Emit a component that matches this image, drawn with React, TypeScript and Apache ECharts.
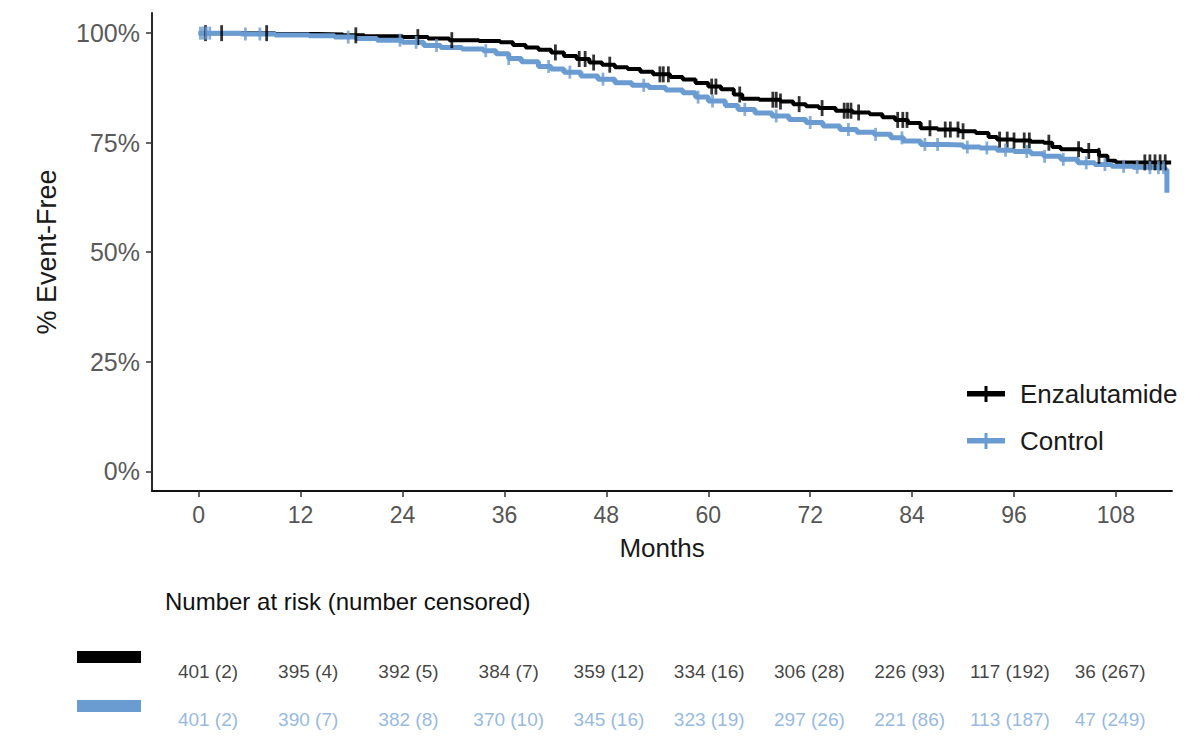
import React, { useEffect, useRef } from "react";
import * as echarts from "echarts";

// Kaplan-Meier curves: [month, % event-free]
const enzaCurve: number[][] = [
  [0, 100], [2.7, 100], [9, 99.8], [14, 99.7], [17, 99.5], [19.5, 99.3], [24, 99.1], [27, 98.8],
  [29.5, 98.4], [33, 98.2], [35.5, 97.9], [37, 97.3], [38.5, 96.7], [40, 96.2], [41.5, 95.6],
  [43, 94.8], [44.5, 94.1], [46, 93.3], [47.5, 92.8], [49, 92.2], [50.5, 91.8], [52, 91.2],
  [53.5, 90.6], [55.5, 90.0], [57, 89.4], [58.5, 88.6], [60, 87.8], [61.5, 87.2], [63, 86.0],
  [64, 85.0], [66, 84.8], [68.5, 84.4], [70, 83.8], [71.5, 83.3], [73, 82.9], [75, 82.3],
  [77, 81.9], [79, 81.5], [80.5, 80.8], [82, 80.2], [83.5, 79.5], [85, 78.3], [87, 78.0],
  [89.5, 77.6], [91.5, 77.2], [93, 76.3], [94, 75.7], [96, 75.5], [98, 75.2], [99.5, 75.0],
  [100.5, 74.0], [101.5, 73.5], [104, 73.1], [106, 72.0], [107, 70.9], [108, 70.5], [114.5, 70.5],
];

const controlCurve: number[][] = [
  [0, 100], [5, 99.8], [9, 99.6], [13, 99.4], [16, 99.1], [18.5, 98.8], [21, 98.4], [24, 97.9],
  [26.5, 97.2], [28.5, 96.7], [31, 96.4], [33.5, 96.0], [35, 95.3], [36.5, 94.2], [38, 93.5],
  [40, 92.4], [41.5, 91.8], [43, 91.1], [45, 90.2], [47, 89.5], [49, 88.7], [51, 88.1],
  [53, 87.6], [55, 87.0], [57, 86.4], [58.5, 85.4], [60, 84.5], [62, 83.5], [63.5, 82.6],
  [65.5, 81.8], [67.5, 81.1], [69.5, 80.3], [71.5, 79.6], [73.5, 78.8], [75.5, 78.0],
  [77.5, 77.4], [79.5, 76.9], [81.5, 76.1], [83, 75.4], [85, 74.6], [88, 74.5], [90, 74.0],
  [92, 73.8], [94, 73.3], [96, 73.0], [98, 72.5], [99.5, 71.9], [101.5, 71.2], [103.5, 70.4],
  [105.5, 70.0], [107.5, 69.6], [110, 69.4], [112, 69.3], [113.7, 68.9], [114.0, 63.6],
];

// censoring times (months)
const enzaCensor: number[] = [
  0.8, 2.7, 8.0, 18.5, 25.8, 29.8, 42.0, 44.8, 45.5, 46.5, 48.4, 54.3, 54.7, 55.3, 60.4, 60.9,
  63.7, 67.6, 68.0, 68.5, 70.7, 73.4, 76.0, 76.4, 76.8, 77.7, 82.3, 82.9, 83.4, 86.1, 87.9, 88.5,
  89.4, 90.0, 94.3, 95.2, 96.0, 97.2, 97.8, 100.1, 103.6, 104.8, 106.0, 111.4, 112.0, 112.6,
  113.2, 113.8,
];
const controlCensor: number[] = [
  0.2, 0.5, 0.9, 1.3, 5.5, 7.2, 17.6, 23.7, 25.6, 28.0, 33.8, 36.5, 41.2, 43.7, 47.6, 52.4, 58.8,
  60.5, 64.3, 68.0, 72.0, 76.5, 79.7, 82.8, 85.5, 87.0, 90.5, 92.8, 95.0, 97.5, 99.6, 101.8,
  104.5, 106.7, 108.9, 110.5, 112.0, 113.0, 113.6,
];

const monthTicks: number[] = [0, 12, 24, 36, 48, 60, 72, 84, 96, 108];
const pctTicks: number[] = [0, 25, 50, 75, 100];

const enzaRisk: string[] = [
  "401 (2)", "395 (4)", "392 (5)", "384 (7)", "359 (12)", "334 (16)", "306 (28)", "226 (93)", "117 (192)", "36 (267)",
];
const controlRisk: string[] = [
  "401 (2)", "390 (7)", "382 (8)", "370 (10)", "345 (16)", "323 (19)", "297 (26)", "221 (86)", "113 (187)", "47 (249)",
];

const BLACK = "#000000";
const BLUE = "#6a9bd1";
const FONT = "'Liberation Sans', Arial, sans-serif";

function survivalAt(curve: number[][], t: number): number {
  let v = curve[0][1];
  for (const [x, y] of curve) {
    if (x <= t) v = y;
    else break;
  }
  return v;
}

export default function App() {
  const ref = useRef<HTMLDivElement>(null);
  useEffect(() => {
    if (!ref.current) return;
    const chart = echarts.init(ref.current, null, { renderer: "svg" });
    const xMin = -5.5;
    const xMax = 114.6;
    const legendIcon = "path://M0,5H38V10.5H0Z M17.5,0H20.5V16H17.5Z";
    const option: any = {
      animation: false,
      backgroundColor: "#ffffff",
      textStyle: { fontFamily: FONT },
      legend: {
        left: 962,
        top: 375,
        orient: "vertical",
        icon: legendIcon,
        itemWidth: 38,
        itemHeight: 16,
        itemGap: 19,
        textStyle: { fontSize: 26, color: "#1a1a1a", fontFamily: FONT, lineHeight: 28, padding: [0, 0, 0, 10] },
        data: ["Enzalutamide", "Control"],
      },
      grid: [
        { left: 152, right: 28, top: 13, bottom: 749 - 491, containLabel: false },
        { left: 152, right: 28, top: 647, height: 96, containLabel: false },
      ],
      xAxis: [
        {
          type: "value",
          gridIndex: 0,
          min: xMin,
          max: xMax,
          name: "Months",
          nameLocation: "middle",
          nameGap: 44,
          nameTextStyle: { fontSize: 26, color: "#1a1a1a", fontFamily: FONT },
          axisLine: { show: true, onZero: false, lineStyle: { color: "#111", width: 1.8 } },
          axisTick: { show: true, length: 6, customValues: monthTicks, lineStyle: { color: "#333", width: 1.5 } },
          axisLabel: { customValues: monthTicks, fontSize: 23, color: "#555", margin: 12, fontFamily: FONT },
          splitLine: { show: false },
        },
        {
          type: "value",
          gridIndex: 1,
          min: -6.7,
          max: 115.4,
          show: false,
          splitLine: { show: false },
        },
      ],
      yAxis: [
        {
          type: "value",
          gridIndex: 0,
          min: -4.5,
          max: 104.6,
          name: "% Event-Free",
          nameLocation: "middle",
          nameGap: 92,
          nameTextStyle: { fontSize: 27, color: "#1a1a1a", fontFamily: FONT },
          axisLine: { show: true, onZero: false, lineStyle: { color: "#111", width: 1.8 } },
          axisTick: { show: true, length: 6, customValues: pctTicks, lineStyle: { color: "#333", width: 1.5 } },
          axisLabel: { customValues: pctTicks, fontSize: 25, color: "#5a5a5a", margin: 12, formatter: "{value}%", fontFamily: FONT },
          splitLine: { show: false },
        },
        {
          type: "value",
          gridIndex: 1,
          min: -0.5,
          max: 1.5,
          inverse: true,
          show: false,
          splitLine: { show: false },
        },
      ],
      graphic: [
        {
          type: "text",
          left: 165,
          top: 589,
          style: { text: "Number at risk (number censored)", fontSize: 24, fill: "#111", fontFamily: FONT },
        },
        { type: "rect", shape: { x: 77, y: 651, width: 64, height: 12 }, style: { fill: BLACK } },
        { type: "rect", shape: { x: 77, y: 700, width: 64, height: 12 }, style: { fill: BLUE } },
      ],
      series: [
        {
          name: "Enzalutamide",
          type: "line",
          xAxisIndex: 0,
          yAxisIndex: 0,
          step: "end",
          showSymbol: false,
          symbol: "none",
          color: BLACK,
          lineStyle: { color: BLACK, width: 4 },
          data: enzaCurve,
          z: 2,
        },
        {
          name: "Control",
          type: "line",
          xAxisIndex: 0,
          yAxisIndex: 0,
          step: "end",
          showSymbol: false,
          symbol: "none",
          color: BLUE,
          lineStyle: { color: BLUE, width: 5 },
          data: controlCurve,
          z: 3,
        },
        {
          name: "Enzalutamide censored",
          type: "scatter",
          xAxisIndex: 0,
          yAxisIndex: 0,
          symbol: "rect",
          symbolSize: [2.8, 16],
          itemStyle: { color: BLACK },
          data: enzaCensor.map((t) => [t, survivalAt(enzaCurve, t)]),
          z: 4,
        },
        {
          name: "Control censored",
          type: "scatter",
          xAxisIndex: 0,
          yAxisIndex: 0,
          symbol: "rect",
          symbolSize: [2.8, 13],
          itemStyle: { color: BLUE },
          data: controlCensor.map((t) => [t, survivalAt(controlCurve, t)]),
          z: 5,
        },
        {
          name: "risk-enza",
          type: "scatter",
          xAxisIndex: 1,
          yAxisIndex: 1,
          symbolSize: 0,
          silent: true,
          label: {
            show: true,
            position: "inside",
            formatter: (p: any) => p.data[2],
            fontSize: 19,
            color: "#111",
            fontFamily: FONT,
          },
          data: monthTicks.map((m, i) => [m, 0, enzaRisk[i]]),
        },
        {
          name: "risk-control",
          type: "scatter",
          xAxisIndex: 1,
          yAxisIndex: 1,
          symbolSize: 0,
          silent: true,
          label: {
            show: true,
            position: "inside",
            formatter: (p: any) => p.data[2],
            fontSize: 19,
            color: "#7aa7d8",
            fontFamily: FONT,
          },
          data: monthTicks.map((m, i) => [m, 1, controlRisk[i]]),
        },
      ],
    };
    chart.setOption(option);
    return () => chart.dispose();
  }, []);
  return (
    <div
      ref={ref}
      style={{ position: "fixed", left: 0, top: 0, width: 1200, height: 749, background: "#fff" }}
    />
  );
}
